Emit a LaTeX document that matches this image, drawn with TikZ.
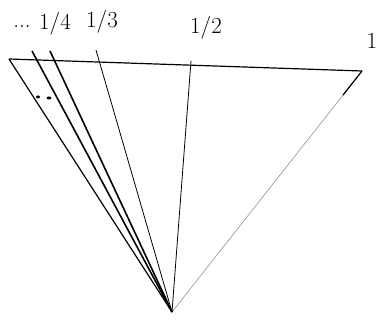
\documentclass[tikz,border=0pt]{standalone}
\usetikzlibrary{calc}
\begin{document}
\begin{tikzpicture}[x=0.02646cm,y=-0.02646cm,font=\LARGE,
  rim/.style={line width=0.9pt},
  ray/.style={line width=0.6pt},
  thickray/.style={line width=1.2pt}]
  \useasboundingbox (0,0) rectangle (378,320);
  \coordinate (apex) at (172,312);
  \coordinate (tl) at (9,59);
  \coordinate (tr) at (362,71);
  \coordinate (q4a) at (32,51);
  \coordinate (q4b) at (50,51);
  \coordinate (q3) at (96,50);
  \coordinate (q2) at (191,61);
  \draw[rim] (tl) -- (tr);
  \draw[rim] (tl) -- (apex);
  \draw[black!40,line width=0.5pt] (tr) -- (apex);
  \draw[rim] (tr) -- ($(tr)!0.1!(apex)$);
  \draw[thickray] (q4a) -- (apex);
  \draw[thickray] (q4b) -- (apex);
  \draw[ray] (q3) -- (apex);
  \draw[ray] (q2) -- (apex);
  \fill (38,97) ellipse (2 and 1.5);
  \fill (49,98) ellipse (2.5 and 1.5);
  \node (ldots) at (22,27) {...};
  \node (l4) at (55,24) {1/4};
  \node (l3) at (102,22) {1/3};
  \node (l2) at (206,28) {1/2};
  \node (l1) at (372,41) {1};
\end{tikzpicture}
\end{document}
